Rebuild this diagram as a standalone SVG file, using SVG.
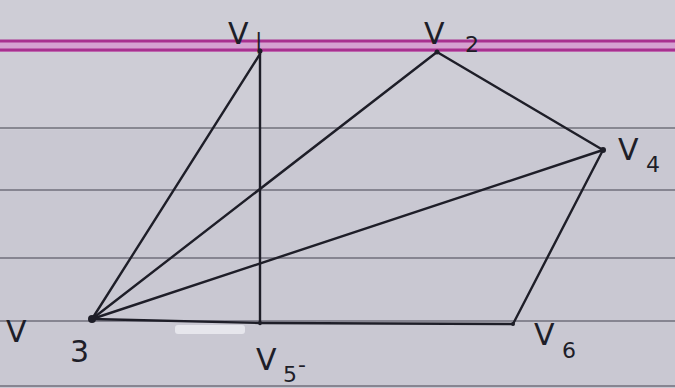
<svg xmlns="http://www.w3.org/2000/svg" width="675" height="388" viewBox="0 0 675 388">
<defs>
<style>
.rule{stroke:#5a5a66;stroke-width:1.6;opacity:0.8}
.pink{stroke:#a8308f;stroke-width:3}
.edge{stroke:#1e1e28;stroke-width:2.4;fill:none;stroke-linecap:round}
.lbl{font-family:"DejaVu Sans",sans-serif;font-size:30px;fill:#1e1e28}
.sub{font-family:"DejaVu Sans",sans-serif;font-size:22px;fill:#1e1e28}
</style>
</defs>
<rect width="675" height="388" fill="#c9c8d2"/>
<rect y="0" width="675" height="130" fill="#cecdd6"/>
<g id="paper">
<rect x="0" y="40" width="675" height="12" fill="#d88fcf" opacity="0.7"/>
<line class="pink" x1="0" y1="41" x2="675" y2="41"/>
<line class="pink" x1="0" y1="50" x2="675" y2="50"/>
<line class="rule" x1="0" y1="128" x2="675" y2="128"/>
<line class="rule" x1="0" y1="190" x2="675" y2="190"/>
<line class="rule" x1="0" y1="258" x2="675" y2="258"/>
<line class="rule" x1="0" y1="321" x2="675" y2="321"/>
<line class="rule" x1="0" y1="386" x2="675" y2="386"/>
</g>
<g id="connectors">
<line class="edge" x1="260" y1="54" x2="92" y2="319"/>
<line class="edge" x1="260" y1="50" x2="260" y2="324"/>
<line class="edge" x1="437" y1="52" x2="92" y2="319"/>
<line class="edge" x1="437" y1="52" x2="603" y2="150"/>
<line class="edge" x1="603" y1="150" x2="92" y2="319"/>
<line class="edge" x1="603" y1="150" x2="513" y2="324"/>
<line class="edge" x1="92" y1="319" x2="260" y2="323"/>
<line class="edge" x1="260" y1="323" x2="513" y2="324"/>
</g>
<rect x="175" y="325" width="70" height="9" fill="#e6e6ec" rx="3"/>
<g id="v1"><circle cx="260" cy="51" r="2.5" fill="#1e1e28"/><text class="lbl" x="228" y="44">V</text><text class="sub" x="255" y="48">|</text></g>
<g id="v2"><circle cx="437" cy="52" r="2.5" fill="#1e1e28"/><text class="lbl" x="424" y="44">V</text><text class="sub" x="465" y="52">2</text></g>
<g id="v4"><circle cx="603" cy="150" r="3" fill="#1e1e28"/><text class="lbl" x="618" y="160">V</text><text class="sub" x="646" y="172">4</text></g>
<g id="v3"><circle cx="92" cy="319" r="4" fill="#1e1e28"/><text class="lbl" x="6" y="342">V</text><text class="lbl" x="70" y="362">3</text></g>
<g id="v5"><circle cx="260" cy="323" r="2" fill="#1e1e28"/><text class="lbl" x="256" y="370">V</text><text class="sub" x="283" y="382">5</text><text class="sub" x="298" y="372">-</text></g>
<g id="v6"><circle cx="513" cy="324" r="2" fill="#1e1e28"/><text class="lbl" x="534" y="345">V</text><text class="sub" x="562" y="358">6</text></g>
</svg>
